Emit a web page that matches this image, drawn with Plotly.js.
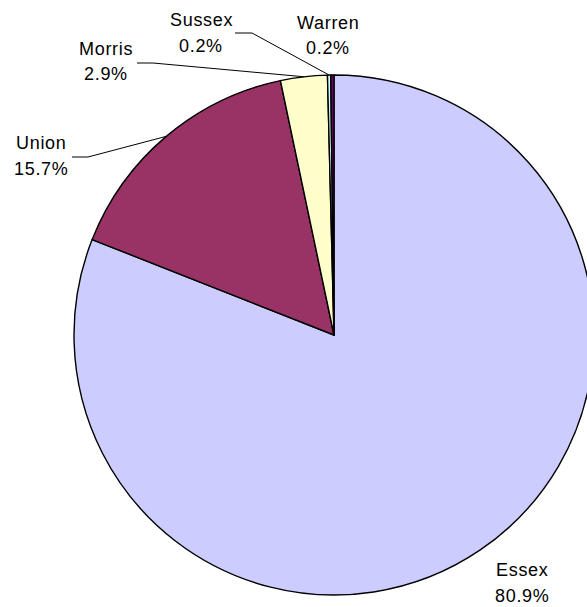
<!DOCTYPE html>
<html>
<head>
<meta charset="utf-8">
<script src="https://cdn.plot.ly/plotly-3.0.1.min.js"></script>
<style>
html, body { margin: 0; padding: 0; overflow: hidden; background: #fff; }
#chart { width: 600px; height: 607px; }
.annotation-text { letter-spacing: 0.7px; }
</style>
</head>
<body>
<div id="chart"></div>
<script>
// Data
const counties = ["Essex", "Union", "Morris", "Sussex", "Warren"];
const shares = [80.9, 15.7, 2.9, 0.2, 0.2];
const sliceColors = ["#CCCCFF", "#993366", "#FFFFCC", "#CCFFFF", "#660066"];

// Layout geometry (pixels)
const W = 600, H = 607;
const cx = 334, cy = 335, R = 260;
const px = x => x / W;
const py = y => 1 - y / H;

// label placement (name centre, percent centre, optional leader start)
const labelPos = {
  Essex:  { x: 522, yName: 570, yPct: 596, leader: null },
  Union:  { x: 41,  yName: 143, yPct: 169, leader: [72, 157, 88] },
  Morris: { x: 106, yName: 49,  yPct: 74,  leader: [137, 63, 153] },
  Sussex: { x: 201, yName: 20,  yPct: 46,  leader: [235, 33, 252] },
  Warren: { x: 328, yName: 23,  yPct: 48,  leader: null }
};

const total = shares.reduce((a, b) => a + b, 0);
const annotations = [];
const shapes = [];
const font = { family: "Liberation Sans, Arial, sans-serif", size: 18, color: "#000" };
let cum = 0;
counties.forEach((name, i) => {
  const mid = (cum + shares[i] / 2) / total;
  cum += shares[i];
  const ang = mid * 2 * Math.PI; // clockwise from 12 o'clock
  const ex = cx + R * Math.sin(ang);
  const ey = cy - R * Math.cos(ang);
  const p = labelPos[name];
  annotations.push({ xref: "paper", yref: "paper", x: px(p.x), y: py(p.yName),
    text: name, showarrow: false, xanchor: "center", yanchor: "middle", font: font });
  annotations.push({ xref: "paper", yref: "paper", x: px(p.x), y: py(p.yPct),
    text: shares[i].toFixed(1) + "%", showarrow: false, xanchor: "center", yanchor: "middle", font: font });
  if (p.leader) {
    const [x0, y0, x1] = p.leader;
    shapes.push({ type: "path", xref: "paper", yref: "paper",
      path: `M ${px(x0)},${py(y0)} L ${px(x1)},${py(y0)} L ${px(ex)},${py(ey)}`,
      line: { color: "#000", width: 1 } });
  }
});

const trace = {
  type: "pie",
  labels: counties,
  values: shares,
  sort: false,
  direction: "clockwise",
  rotation: 0,
  textinfo: "none",
  hoverinfo: "skip",
  marker: { colors: sliceColors, line: { color: "#000", width: 1.4 } },
  domain: { x: [px(cx - R), px(cx + R)], y: [py(cy + R), py(cy - R)] },
  showlegend: false
};

Plotly.newPlot("chart", [trace], {
  width: W, height: H,
  margin: { l: 0, r: 0, t: 0, b: 0 },
  paper_bgcolor: "#fff",
  showlegend: false,
  annotations: annotations,
  shapes: shapes
}, { staticPlot: true });
</script>
</body>
</html>
